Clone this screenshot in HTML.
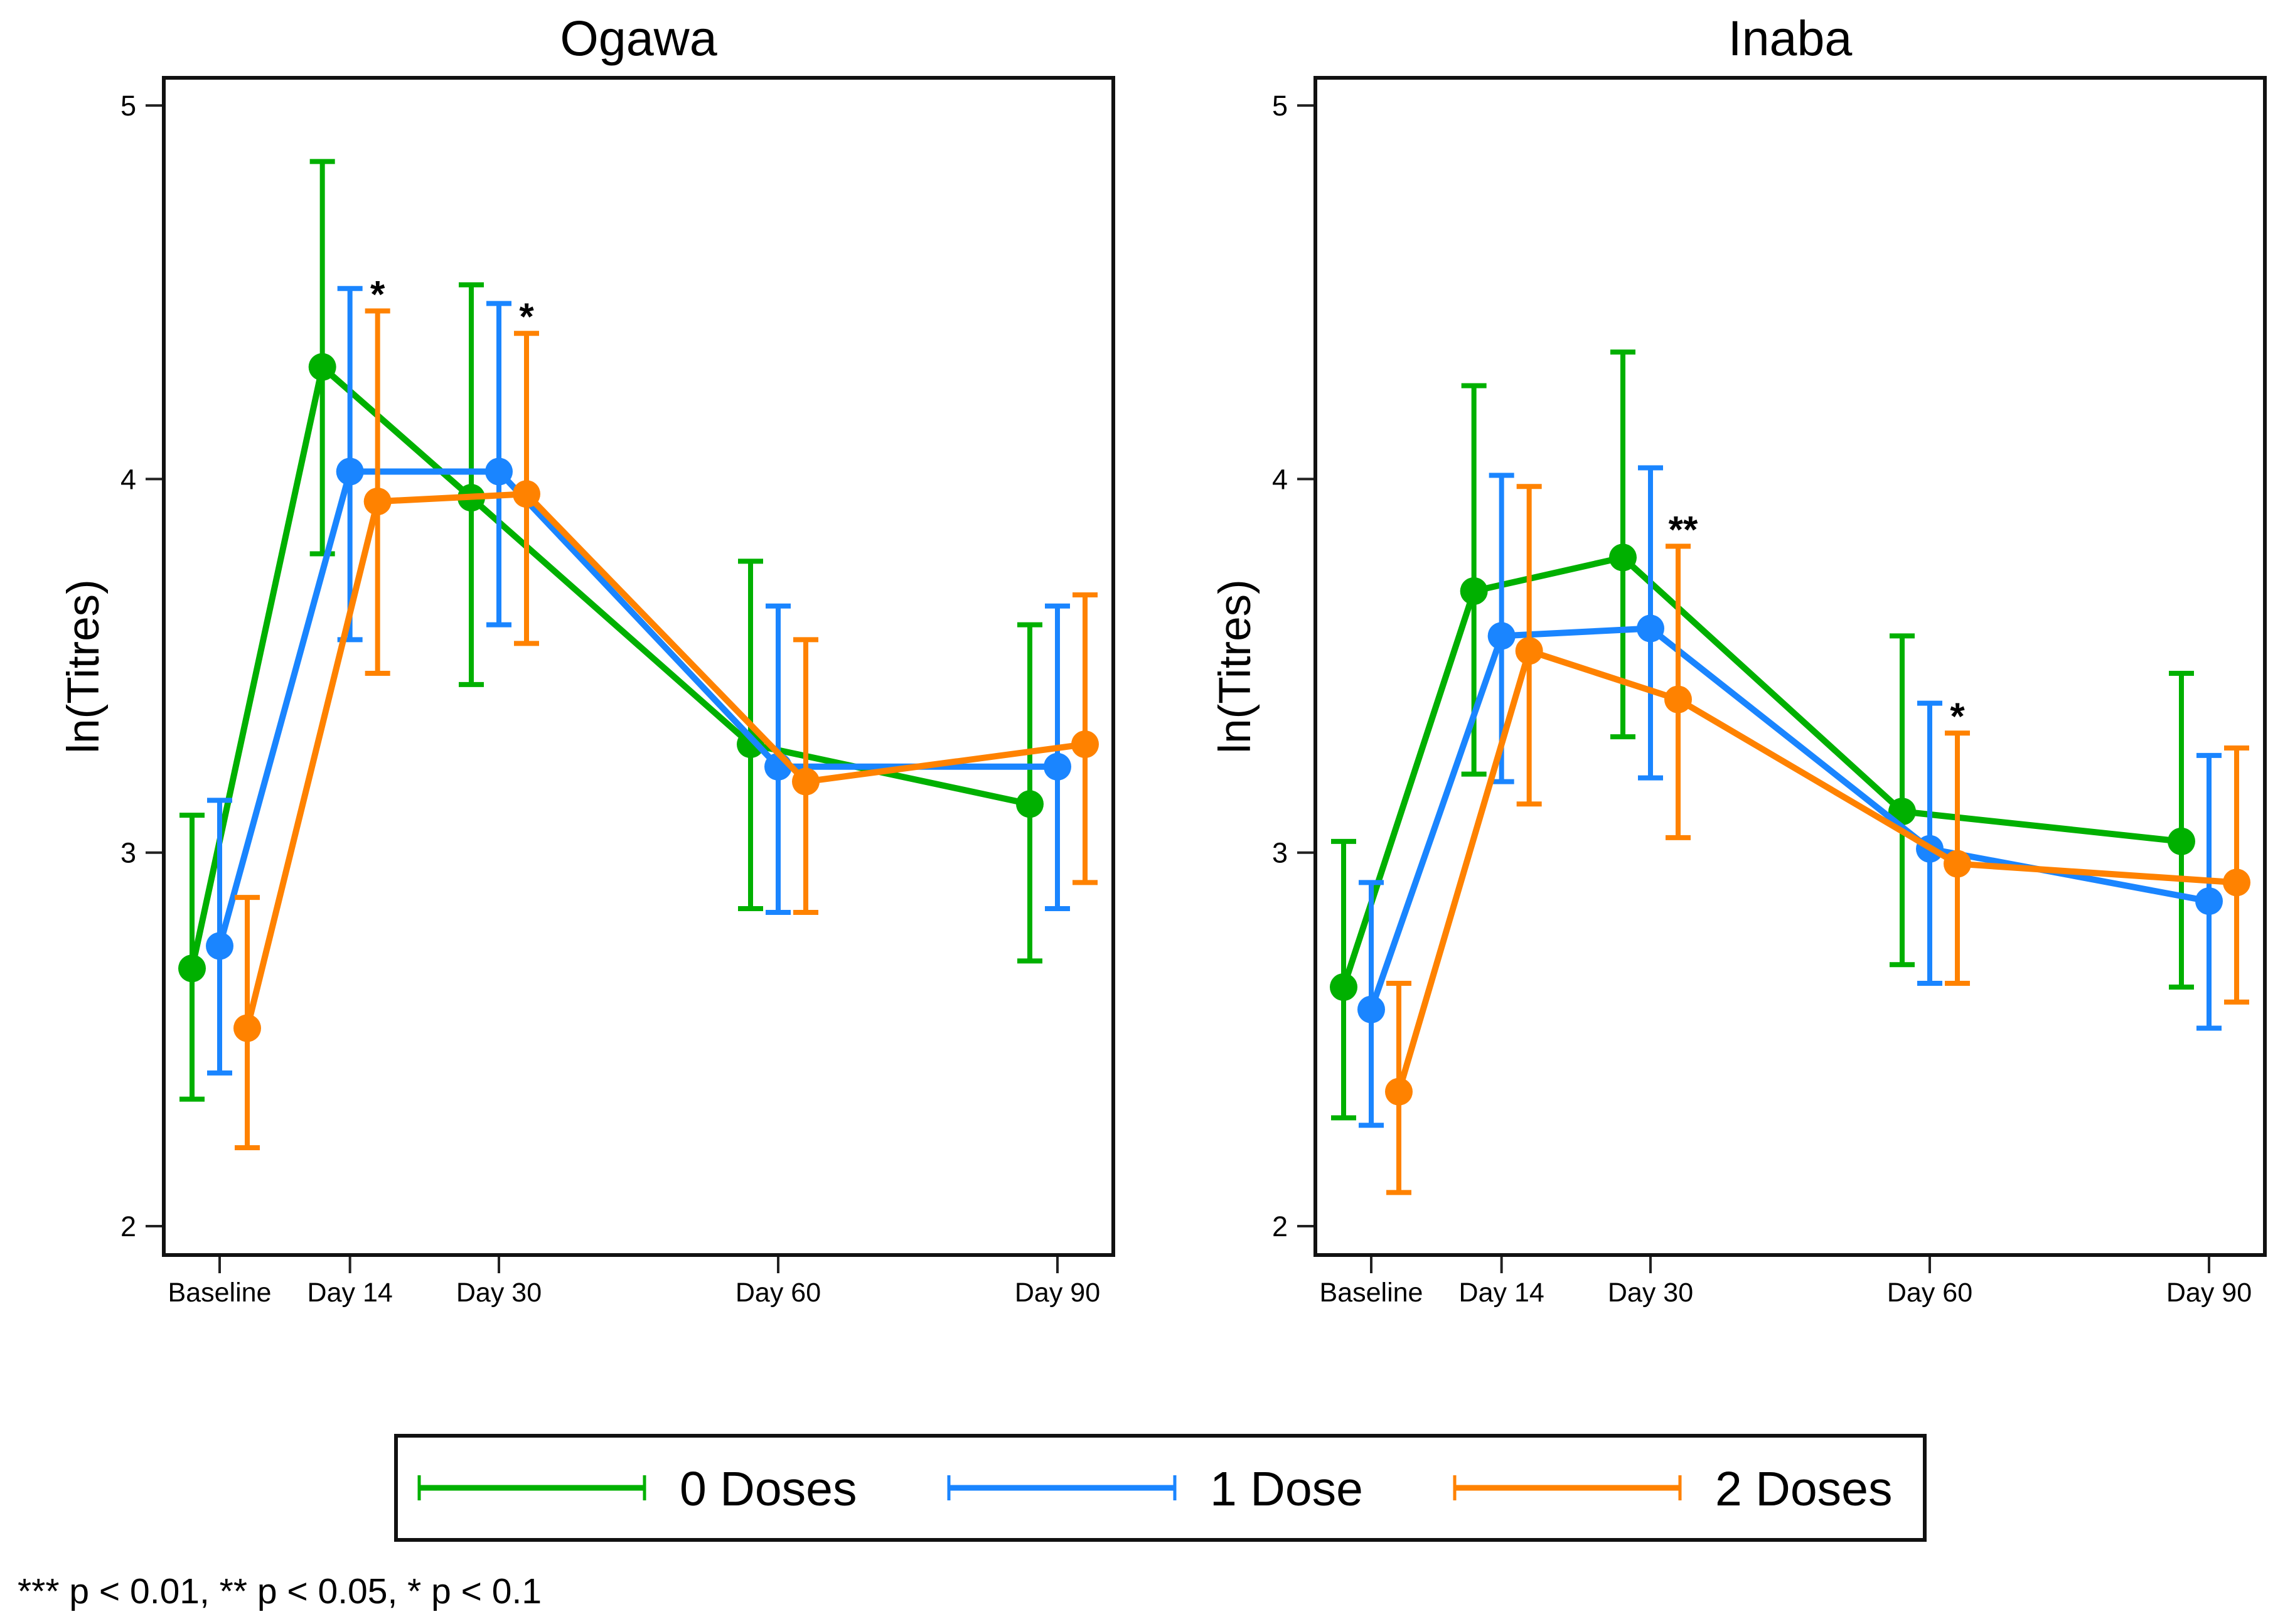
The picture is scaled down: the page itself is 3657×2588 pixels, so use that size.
<!DOCTYPE html>
<html><head><meta charset="utf-8"><style>
html,body{margin:0;padding:0;background:#fff;}
svg{display:block;font-family:"Liberation Sans",Arial,sans-serif;}
</style></head><body>
<svg id="chart" width="3657" height="2588" viewBox="0 0 3657 2588" xmlns="http://www.w3.org/2000/svg">
<rect width="3657" height="2588" fill="#fff"/>
<g id="legend">
  <rect x="631" y="2288" width="2436" height="166" fill="#fff" stroke="#111" stroke-width="6"/>
  <g stroke="#00b000" stroke-width="9">
    <line x1="668" y1="2371" x2="1027" y2="2371"/><line x1="668" y1="2351" x2="668" y2="2391" stroke-width="5"/><line x1="1027" y1="2351" x2="1027" y2="2391" stroke-width="5"/>
  </g>
  <text x="1083" y="2399" font-size="77">0 Doses</text>
  <g stroke="#1a85ff" stroke-width="9">
    <line x1="1512" y1="2371" x2="1872" y2="2371"/><line x1="1512" y1="2351" x2="1512" y2="2391" stroke-width="5"/><line x1="1872" y1="2351" x2="1872" y2="2391" stroke-width="5"/>
  </g>
  <text x="1928" y="2399" font-size="77">1 Dose</text>
  <g stroke="#ff8200" stroke-width="9">
    <line x1="2318" y1="2371" x2="2677" y2="2371"/><line x1="2318" y1="2351" x2="2318" y2="2391" stroke-width="5"/><line x1="2677" y1="2351" x2="2677" y2="2391" stroke-width="5"/>
  </g>
  <text x="2733" y="2399" font-size="77">2 Doses</text>
</g>
<text x="28" y="2555" font-size="57">*** p &lt; 0.01, ** p &lt; 0.05, * p &lt; 0.1</text>
</svg>
<script>
const categories = ["Baseline","Day 14","Day 30","Day 60","Day 90"];
const catPos = [0, 14, 30, 60, 90];
const seriesNames = ["0 Doses","1 Dose","2 Doses"];
const yTicks = [2, 3, 4, 5];
// Ogawa
const ogawaMean0 = [2.69, 4.30, 3.95, 3.29, 3.13];
const ogawaLo0   = [2.34, 3.80, 3.45, 2.85, 2.71];
const ogawaHi0   = [3.10, 4.85, 4.52, 3.78, 3.61];
const ogawaMean1 = [2.75, 4.02, 4.02, 3.23, 3.23];
const ogawaLo1   = [2.41, 3.57, 3.61, 2.84, 2.85];
const ogawaHi1   = [3.14, 4.51, 4.47, 3.66, 3.66];
const ogawaMean2 = [2.53, 3.94, 3.96, 3.19, 3.29];
const ogawaLo2   = [2.21, 3.48, 3.56, 2.84, 2.92];
const ogawaHi2   = [2.88, 4.45, 4.39, 3.57, 3.69];
const ogawaStars = ["", "*", "*", "", ""];
// Inaba
const inabaMean0 = [2.64, 3.70, 3.79, 3.11, 3.03];
const inabaLo0   = [2.29, 3.21, 3.31, 2.70, 2.64];
const inabaHi0   = [3.03, 4.25, 4.34, 3.58, 3.48];
const inabaMean1 = [2.58, 3.58, 3.60, 3.01, 2.87];
const inabaLo1   = [2.27, 3.19, 3.20, 2.65, 2.53];
const inabaHi1   = [2.92, 4.01, 4.03, 3.40, 3.26];
const inabaMean2 = [2.36, 3.54, 3.41, 2.97, 2.92];
const inabaLo2   = [2.09, 3.13, 3.04, 2.65, 2.60];
const inabaHi2   = [2.65, 3.98, 3.82, 3.32, 3.28];
const inabaStars = ["", "", "**", "*", ""];

const colors = ["#00b000", "#1a85ff", "#ff8200"];
const NS = "http://www.w3.org/2000/svg";
const svg = document.getElementById("chart");
function mk(tag, attrs, parent) {
  const e = document.createElementNS(NS, tag);
  for (const k in attrs) e.setAttribute(k, attrs[k]);
  (parent || svg).appendChild(e);
  return e;
}
function panel(key, title, x0, means, los, his, stars) {
  const left = x0, right = x0 + 1513, top = 124, bottom = 2000;
  const xScale = v => left + 89 + v * (1335 / 90);
  const yScale = v => 1954 - (v - 2) * 595.3;
  const g = mk("g", {});
  
  
  const t = mk("text", {x: (left + right) / 2, y: 88, "font-size": 79, "text-anchor": "middle"}, g);
  
  
  t.textContent = title;
  const yl = mk("text", {x: 0, y: 0, "font-size": 71, "text-anchor": "middle", transform: `translate(${left - 104},1062) rotate(-90)`}, g);
  
  
  yl.textContent = "ln(Titres)";
  yTicks.forEach(v => {
    const tk = mk("line", {x1: left - 29, x2: left, y1: yScale(v), y2: yScale(v), stroke: "#222", "stroke-width": 4}, g);
    
    
    const lb = mk("text", {x: left - 44, y: yScale(v) + 16, "font-size": 45, "text-anchor": "end"}, g);
    
    
    lb.textContent = v;
  });
  categories.forEach((c, i) => {
    const x = xScale(catPos[i]);
    const tk = mk("line", {x1: x, x2: x, y1: bottom, y2: bottom + 29, stroke: "#222", "stroke-width": 4}, g);
    
    
    const lb = mk("text", {x: x, y: 2074, "font-size": 43, "text-anchor": "middle"}, g);
    
    
    lb.textContent = c;
  });
  const off = [-44, 0, 44];
  for (let s = 0; s < 3; s++) {
    const sg = mk("g", {}, g);
    
    
    const pts = means[s].map((m, i) => (xScale(catPos[i]) + off[s]) + "," + yScale(m)).join(" ");
    const pl = mk("polyline", {points: pts, fill: "none", stroke: colors[s], "stroke-width": 10, "stroke-linejoin": "round"}, sg);
    
    
    means[s].forEach((m, i) => {
      const x = xScale(catPos[i]) + off[s];
      const eb = mk("path", {d: `M${x},${yScale(los[s][i])}V${yScale(his[s][i])}M${x-20},${yScale(los[s][i])}H${x+20}M${x-20},${yScale(his[s][i])}H${x+20}`, stroke: colors[s], "stroke-width": 8, fill: "none"}, sg);
      
      
      const c = mk("circle", {cx: x, cy: yScale(m), r: 22, fill: colors[s]}, sg);
      
      
    });
  }
  stars.forEach((st, i) => {
    if (!st) return;
    const x = xScale(catPos[i]) + 44;
    const tx = mk("text", {x: st.length > 1 ? x + 8 : x, y: yScale(his[2][i]) - 6, "font-size": 60, "font-weight": "bold", "text-anchor": "middle"}, g);
    
    
    tx.textContent = st;
  });
  const fr = mk("rect", {x: left, y: top, width: right - left, height: bottom - top, fill: "none", stroke: "#111", "stroke-width": 6}, g);
  
  
}
panel("ogawa", "Ogawa", 261, [ogawaMean0, ogawaMean1, ogawaMean2], [ogawaLo0, ogawaLo1, ogawaLo2], [ogawaHi0, ogawaHi1, ogawaHi2], ogawaStars);
panel("inaba", "Inaba", 2096, [inabaMean0, inabaMean1, inabaMean2], [inabaLo0, inabaLo1, inabaLo2], [inabaHi0, inabaHi1, inabaHi2], inabaStars);
</script>
</body></html>
